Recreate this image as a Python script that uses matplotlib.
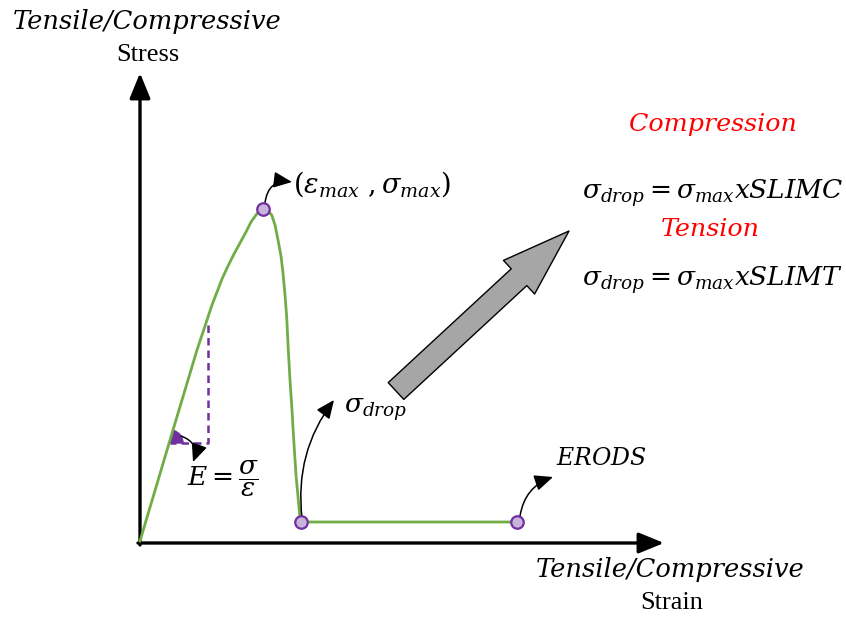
import matplotlib
matplotlib.use("Agg")
import matplotlib.pyplot as plt
import matplotlib.patches as mpatches

plt.rcParams['mathtext.fontset'] = 'dejavuserif'

# ---- data (schematic strain / stress units) ----
rise_strain = [0, 33, 57, 62, 67, 72, 77, 82, 88, 94, 100, 106, 111, 116, 120, 123]
rise_stress = [2, 113, 193, 208, 223, 238, 251, 264, 277, 289, 300, 311, 321, 328, 333, 334.5]
drop_strain = [123, 127, 131.7, 135, 138, 141, 143, 145, 146.7, 148.3, 150, 152, 153.3, 156, 160, 161]
drop_stress = [334.5, 333, 328, 318, 303, 287, 270, 248, 226, 193, 163, 133, 110, 68, 25, 21]
plateau_strain = [161, 377]
plateau_stress = [21, 21]
key_strain = [123, 161, 377]
key_stress = [334.5, 21, 21]

GREEN = '#70ad47'
PURPLE = '#7030a0'
SERIF = 'DejaVu Serif'

fig = plt.figure(figsize=(8.46, 6.19), dpi=100)
ax = fig.add_axes([0, 0, 1, 1])
ax.set_xlim(-140, 706)
ax.set_ylim(-76, 543)
ax.axis('off')

def P(px, py):
    return (px - 140, 543 - py)

# axes arrows
ax.annotate('', xy=P(140, 73), xytext=P(140, 545),
            arrowprops=dict(arrowstyle='-|>,head_length=1.1,head_width=0.45', lw=2.4, color='black',
                            shrinkA=0, shrinkB=0, mutation_scale=14))
ax.annotate('', xy=P(664, 543), xytext=P(138, 543),
            arrowprops=dict(arrowstyle='-|>,head_length=1.1,head_width=0.45', lw=2.4, color='black',
                            shrinkA=0, shrinkB=0, mutation_scale=14))

# curve
ax.plot(rise_strain + drop_strain[1:] + plateau_strain[1:],
        rise_stress + drop_stress[1:] + plateau_stress[1:],
        color=GREEN, lw=2.0, solid_joinstyle='round', zorder=3)
ax.plot(key_strain, key_stress, 'o', ms=9, mfc='#c9b5dc', mec=PURPLE, mew=1.6, zorder=4)

# modulus triangle
ax.plot([P(208, 325)[0], P(208, 443)[0], P(170, 443)[0]],
        [P(208, 325)[1], P(208, 443)[1], P(170, 443)[1]],
        color=PURPLE, lw=1.8, ls=(0, (3, 2)), zorder=2)
ax.add_patch(mpatches.Wedge(P(170, 443), 13, 0, 75, color=PURPLE, zorder=2))

# small curved arrows
arrow_kw = dict(arrowstyle='-|>,head_length=0.8,head_width=0.35', lw=1.1, color='black',
                shrinkA=0, shrinkB=0, mutation_scale=14)
ax.annotate('', xy=P(193, 462), xytext=P(181, 436),
            arrowprops=dict(connectionstyle='arc3,rad=-0.5', **arrow_kw))
ax.annotate('', xy=P(292, 182), xytext=P(265, 203),
            arrowprops=dict(connectionstyle='arc3,rad=-0.5', **arrow_kw))
ax.annotate('', xy=P(334, 400), xytext=P(302, 518),
            arrowprops=dict(connectionstyle='arc3,rad=-0.2', **arrow_kw))
ax.annotate('', xy=P(553, 477), xytext=P(520, 516),
            arrowprops=dict(connectionstyle='arc3,rad=-0.3', **arrow_kw))

# big grey arrow
big = mpatches.FancyArrowPatch(P(396, 391), P(569, 231),
                               arrowstyle='simple,head_length=4.9,head_width=3.3,tail_width=1.65',
                               mutation_scale=10, fc='#a6a6a6', ec='black', lw=1.0,
                               shrinkA=0, shrinkB=0, zorder=3)
ax.add_patch(big)

# texts
ax.text(*P(147, 21), 'Tensile/Compressive', fontsize=18.5, family=SERIF, style='italic',
        ha='center', va='center')
ax.text(*P(148, 55), 'Stress', fontsize=19, family='Liberation Serif', ha='center', va='center')
ax.text(*P(670, 570), 'Tensile/Compressive', fontsize=18.5, family=SERIF, style='italic',
        ha='center', va='center')
ax.text(*P(672, 603), 'Strain', fontsize=19, family='Liberation Serif', ha='center', va='center')

ax.text(*P(293, 184), r'$(\varepsilon_{max}\ ,\sigma_{max})$', fontsize=19.5, ha='left', va='center')
ax.text(*P(344, 410), r'$\sigma_{drop}$', fontsize=19, ha='left', va='center')
ax.text(*P(556, 458), r'$ERODS$', fontsize=17, ha='left', va='center')
ax.text(*P(187, 479), r'$E=\dfrac{\sigma}{\varepsilon}$', fontsize=19, ha='left', va='center')

ax.text(*P(713, 125), 'Compression', fontsize=18.3, family=SERIF, style='italic', color='#ff0000',
        ha='center', va='center')
ax.text(*P(713, 193), r'$\sigma_{drop}=\sigma_{max}xSLIMC$', fontsize=19, ha='center', va='center')
ax.text(*P(710, 230), 'Tension', fontsize=18.3, family=SERIF, style='italic', color='#ff0000',
        ha='center', va='center')
ax.text(*P(713, 280), r'$\sigma_{drop}=\sigma_{max}xSLIMT$', fontsize=19, ha='center', va='center')

fig.savefig('out.png', dpi=100)
